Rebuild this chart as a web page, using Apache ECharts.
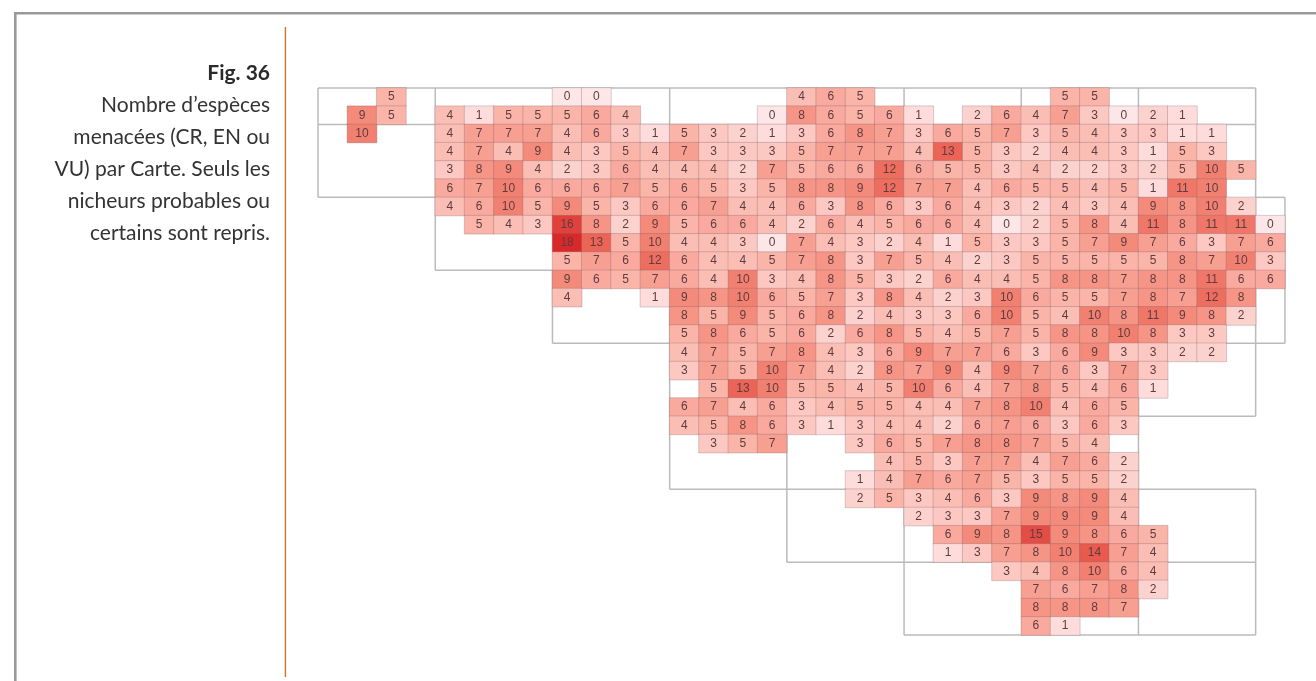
<!DOCTYPE html>
<html><head><meta charset="utf-8">
<style>html,body{margin:0;padding:0;background:#fff}
#c,#m{position:absolute;left:0;top:0;width:1316px;height:681px}
#m{filter:blur(0.65px)}</style>
<script src="https://cdn.jsdelivr.net/npm/echarts@6/dist/echarts.min.js"></script>
</head><body><div id="m"></div><div id="c"></div>
<script>
const captionTitle = 'Fig. 36';
const captionLines = ['Nombre d’espèces','menacées (CR, EN ou','VU) par Carte. Seuls les','nicheurs probables ou','certains sont repris.'];
const _ = null;
// first occupied grid column of each row
const rowStarts = [2,1,1,4,4,4,4,5,8,8,8,8,12,12,12,12,13,12,12,13,19,18,18,20,21,21,23,24,24,24];
const row00 = [5,_,_,_,_,_,0,0,_,_,_,_,_,_,4,6,5,_,_,_,_,_,_,5,5];
const row01 = [9,5,_,4,1,5,5,5,6,4,_,_,_,_,0,8,6,5,6,1,_,2,6,4,7,3,0,2,1];
const row02 = [10,_,_,4,7,7,7,4,6,3,1,5,3,2,1,3,6,8,7,3,6,5,7,3,5,4,3,3,1,1];
const row03 = [4,7,4,9,4,3,5,4,7,3,3,3,5,7,7,7,4,13,5,3,2,4,4,3,1,5,3];
const row04 = [3,8,9,4,2,3,6,4,4,4,2,7,5,6,6,12,6,5,5,3,4,2,2,3,2,5,10,5];
const row05 = [6,7,10,6,6,6,7,5,6,5,3,5,8,8,9,12,7,7,4,6,5,5,4,5,1,11,10];
const row06 = [4,6,10,5,9,5,3,6,6,7,4,4,6,3,8,6,3,6,4,3,2,4,3,4,9,8,10,2];
const row07 = [5,4,3,16,8,2,9,5,6,6,4,2,6,4,5,6,6,4,0,2,5,8,4,11,8,11,11,0];
const row08 = [18,13,5,10,4,4,3,0,7,4,3,2,4,1,5,3,3,5,7,9,7,6,3,7,6];
const row09 = [5,7,6,12,6,4,4,5,7,8,3,7,5,4,2,3,5,5,5,5,5,8,7,10,3];
const row10 = [9,6,5,7,6,4,10,3,4,8,5,3,2,6,4,4,5,8,8,7,8,8,11,6,6];
const row11 = [4,_,_,1,9,8,10,6,5,7,3,8,4,2,3,10,6,5,5,7,8,7,12,8];
const row12 = [8,5,9,5,6,8,2,4,3,3,6,10,5,4,10,8,11,9,8,2];
const row13 = [5,8,6,5,6,2,6,8,5,4,5,7,5,8,8,10,8,3,3];
const row14 = [4,7,5,7,8,4,3,6,9,7,7,6,3,6,9,3,3,2,2];
const row15 = [3,7,5,10,7,4,2,8,7,9,4,9,7,6,3,7,3];
const row16 = [5,13,10,5,5,4,5,10,6,4,7,8,5,4,6,1];
const row17 = [6,7,4,6,3,4,5,5,4,4,7,8,10,4,6,5];
const row18 = [4,5,8,6,3,1,3,4,4,2,6,7,6,3,6,3];
const row19 = [3,5,7,_,_,3,6,5,7,8,8,7,5,4];
const row20 = [4,5,3,7,7,4,7,6,2];
const row21 = [1,4,7,6,7,5,3,5,5,2];
const row22 = [2,5,3,4,6,3,9,8,9,4];
const row23 = [2,3,3,7,9,9,9,4];
const row24 = [6,9,8,15,9,8,6,5];
const row25 = [1,3,7,8,10,14,7,4];
const row26 = [3,4,8,10,6,4];
const row27 = [7,6,7,8,2];
const row28 = [8,8,8,7];
const row29 = [6,1];
const rowValues = [row00,row01,row02,row03,row04,row05,row06,row07,row08,row09,row10,row11,row12,row13,row14,row15,row16,row17,row18,row19,row20,row21,row22,row23,row24,row25,row26,row27,row28,row29];
const columnCount = 33;
const xCats = Array.from({length:columnCount},(_,i)=>i);
const yCats = rowValues.map((_,i)=>i);
// map-sheet outlines, in grid units: [col1,row1,col2,row2]
const sheetLines = [
 [0,0,32,0],[0,2,32,2],[0,6,4,6],[32,6,33,6],[0,0,0,6],[4,0,4,10],[4,10,8,10],[8,10,8,14],
 [8,14,33,14],[12,0,12,22],[12,22,32,22],[16,18,16,26],[16,26,32,26],[20,0,20,2],[20,22,20,30],
 [20,30,32,30],[24,0,24,2],[28,0,28,30],[32,0,32,18],[28,18,32,18],[33,6,33,14],[32,22,32,30]
];
const cells = [];
rowValues.forEach((vals,r)=>vals.forEach((v,i)=>{ if(v!==null) cells.push([rowStarts[r]+i, r, v]); }));

const map = echarts.init(document.getElementById('m'),null,{renderer:'canvas'});
map.setOption({
 animation:false,backgroundColor:'#fff',
 grid:{left:318.05,top:87.9,width:966.9,height:547.2,containLabel:false},
 xAxis:{type:'category',data:xCats,show:false},
 yAxis:{type:'category',data:yCats,inverse:true,show:false},
 visualMap:{show:false,seriesIndex:1,dimension:2,min:0,max:18,inRange:{color:['#fde6e8','#fbb9ae','#f48a7a','#ea5f52','#d9282a']}},
 series:[
  {type:'custom',coordinateSystem:'cartesian2d',silent:true,z:1,clip:false,
   data:sheetLines.map(()=>[0,0]),
   renderItem(params,api){
    const s=sheetLines[params.dataIndex],b=api.coord([0,0]),sz=api.size([1,1]);
    const X=v=>b[0]-sz[0]/2+v*sz[0],Y=v=>b[1]-sz[1]/2+v*sz[1];
    return {type:'line',shape:{x1:X(s[0]),y1:Y(s[1]),x2:X(s[2]),y2:Y(s[3])},style:{stroke:'#bbbbbb',lineWidth:1.5}};
   }},
  {type:'heatmap',data:cells,z:2,silent:true,
   itemStyle:{borderColor:'rgba(125,95,105,0.28)',borderWidth:1},
   label:{show:true,formatter:p=>p.value[2],fontFamily:'Liberation Sans',fontSize:12,color:'#5e3c40'},
   emphasis:{disabled:true}}
 ]
});
const cap = echarts.init(document.getElementById('c'),null,{renderer:'canvas'});
cap.setOption({
 animation:false,backgroundColor:'transparent',
 graphic:[
 {type:'rect',shape:{x:14,y:12,width:1302,height:2.6},style:{fill:'#999'},silent:true},
 {type:'rect',shape:{x:14,y:12,width:2.6,height:669},style:{fill:'#999'},silent:true},
 {type:'rect',shape:{x:284.7,y:27,width:1.4,height:650},style:{fill:'#c9792b'},silent:true},
 {type:'text',style:{text:captionTitle,x:270,y:73,align:'right',verticalAlign:'middle',font:'bold 21px Lato',fill:'#2a2a2a'},silent:true}
 ].concat(captionLines.map((t,i)=>({type:'text',style:{text:t,x:270,y:105+i*32,align:'right',verticalAlign:'middle',font:'21px Lato',fill:'#333'},silent:true})))
});
</script></body></html>
